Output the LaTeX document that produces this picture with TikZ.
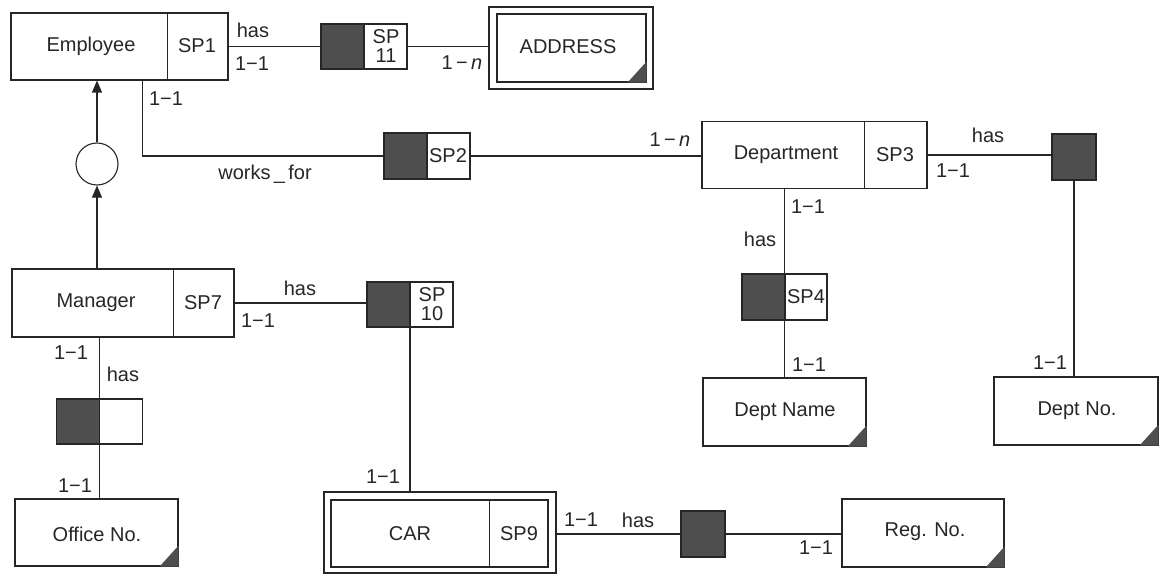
\documentclass[tikz,border=0pt]{standalone}
\usepackage{fontspec}
\setmainfont{Liberation Sans}
\usetikzlibrary{arrows.meta}
\definecolor{relgray}{RGB}{78,78,78}
\tikzset{
  ln/.style={line width=1.1pt, draw=black!85},
  box/.style={draw=black!85, line width=1.1pt, rectangle, inner sep=0pt},
  lbl/.style={font=\fontsize{20}{22}\selectfont, inner sep=0pt, text=black!85},
  spl/.style={font=\fontsize{20}{19}\selectfont, inner sep=0pt, align=center, text=black!85},
  relhalf/.style={box, path picture={
     \fill[relgray] (path picture bounding box.north west) rectangle ([xshift=#1]path picture bounding box.south west);
     \draw[line width=1.1pt, draw=black!85] ([xshift=#1]path picture bounding box.north west) -- ([xshift=#1]path picture bounding box.south west);}},
  relfull/.style={box, fill=relgray},
  arr/.style={ln, -{Triangle[length=12pt,width=10pt]}}
}
\newcommand{\cornertri}[1]{\fill[relgray] (#1.south east) -- ++(-19pt,0) -- ([yshift=21pt]#1.south east) -- cycle;}
\begin{document}
\begin{tikzpicture}[x=1pt,y=-1pt]
\useasboundingbox (0,0) rectangle (1165,575);

% ---- entities ----
\node[box, minimum width=217pt, minimum height=67pt] (emp) at (119.5,46.5) {};
\draw[ln] ([xshift=157pt]emp.north west) -- ([xshift=157pt]emp.south west);
\node[lbl] (empT) at (91,46) {Employee};
\node[lbl] (empS) at (197,46) {SP1};

\node[box, minimum width=225pt, minimum height=67pt] (dept) at (814.5,155) {};
\draw[ln] ([xshift=163pt]dept.north west) -- ([xshift=163pt]dept.south west);
\node[lbl] (deptT) at (786,155) {Department};
\node[lbl] (deptS) at (895,155) {SP3};

\node[box, minimum width=222pt, minimum height=68pt] (mgr) at (123,303) {};
\draw[ln] ([xshift=162pt]mgr.north west) -- ([xshift=162pt]mgr.south west);
\node[lbl] (mgrT) at (96,303) {Manager};
\node[lbl] (mgrS) at (203,303) {SP7};

\node[box, minimum width=232pt, minimum height=81pt] (car) at (440,532.5) {};
\node[box, minimum width=217pt, minimum height=67pt] (carin) at (439.5,533.5) {};
\draw[ln] ([xshift=159pt]carin.north west) -- ([xshift=159pt]carin.south west);
\node[lbl] (carT) at (410,534) {CAR};
\node[lbl] (carS) at (519,534) {SP9};

\node[box, minimum width=164pt, minimum height=82pt] (addr) at (571,48) {};
\node[box, minimum width=149pt, minimum height=68pt] (addrin) at (571.5,48) {};
\node[lbl] (addrT) at (568,47) {ADDRESS};
\cornertri{addrin}

\node[box, minimum width=163pt, minimum height=68pt] (dname) at (784.5,412) {};
\node[lbl] (dnameT) at (785,412) {Dept Name};
\cornertri{dname}

\node[box, minimum width=164pt, minimum height=68pt] (dno) at (1076,411) {};
\node[lbl] (dnoT) at (1077,411) {Dept No.};
\cornertri{dno}

\node[box, minimum width=163pt, minimum height=67pt] (off) at (96.5,532.5) {};
\node[lbl] (offT) at (97,534) {Office No.};
\cornertri{off}

\node[box, minimum width=162pt, minimum height=68pt] (reg) at (923,533) {};
\node[lbl] (regT) at (925,532) {Reg. No.};
\cornertri{reg}

% ---- relationships ----
\node[relhalf=43pt, minimum width=86pt, minimum height=45pt] (sp11) at (364,46.5) {};
\node[spl] (sp11T) at (386,46) {SP\\11};

\node[relhalf=43pt, minimum width=86pt, minimum height=46pt] (sp2) at (427,156) {};
\node[lbl] (sp2T) at (448,156) {SP2};

\node[relhalf=43pt, minimum width=85pt, minimum height=46pt] (sp4) at (784.5,297) {};
\node[lbl] (sp4T) at (806,297) {SP4};

\node[relhalf=43pt, minimum width=86pt, minimum height=45pt] (sp10) at (410,304.5) {};
\node[spl] (sp10T) at (432,304) {SP\\10};

\node[relhalf=43pt, minimum width=86pt, minimum height=45pt] (orel) at (99.5,421.5) {};

\node[relfull, minimum width=44pt, minimum height=46pt] (r3) at (1074,157) {};
\node[relfull, minimum width=44pt, minimum height=46pt] (r9) at (703,534) {};

% ---- ISA circle ----
\node[draw=black!85, line width=1.1pt, circle, minimum size=42pt, inner sep=0pt] (isa) at (97,164) {};

% ---- connectors ----
\draw[ln] (emp.east) -- (sp11.west);
\draw[ln] (sp11.east) -- (sp11.east -| addr.west);
\draw[ln] ([xshift=132pt]emp.south west) |- (sp2.west);
\draw[ln] (sp2.east) -- (sp2.east -| dept.west);
\draw[ln] (dept.east) -- (dept.east -| r3.west);
\draw[ln] (r3.south) -- (r3.south |- dno.north);
\draw[ln] (sp4.north |- dept.south) -- (sp4.north);
\draw[ln] (sp4.south) -- (sp4.south |- dname.north);
\draw[arr] (isa.north) -- (isa.north |- emp.south);
\draw[arr] (isa.south |- mgr.north) -- (isa.south);
\draw[ln] (mgr.east) -- (mgr.east -| sp10.west);
\draw[ln] (sp10.south) -- (sp10.south |- car.north);
\draw[ln] (orel.north |- mgr.south) -- (orel.north);
\draw[ln] (orel.south) -- (orel.south |- off.north);
\draw[ln] (car.east |- r9.west) -- (r9.west);
\draw[ln] (r9.east) -- (r9.east -| reg.west);

% ---- labels ----
\node[lbl] (l1) at (253,30) {has};
\node[lbl] (l2) at (252,64) {1−1};
\node[lbl] (l3) at (462,63) {1\,−\,\textit{n}};
\node[lbl] (l4) at (166,99) {1−1};
\node[lbl] (l5) at (265,174) {works\,\_\,for};
\node[lbl] (l6) at (670,140) {1\,−\,\textit{n}};
\node[lbl] (l7) at (988,135) {has};
\node[lbl] (l8) at (953,171) {1−1};
\node[lbl] (l9) at (808,207) {1−1};
\node[lbl] (l10) at (760,239) {has};
\node[lbl] (l11) at (809,365) {1−1};
\node[lbl] (l12) at (1050,363) {1−1};
\node[lbl] (l13) at (300,288) {has};
\node[lbl] (l14) at (258,321) {1−1};
\node[lbl] (l15) at (71,353) {1−1};
\node[lbl] (l16) at (123,374) {has};
\node[lbl] (l17) at (75,486) {1−1};
\node[lbl] (l18) at (383,477) {1−1};
\node[lbl] (l19) at (581,520) {1−1};
\node[lbl] (l20) at (638,520) {has};
\node[lbl] (l21) at (816,548) {1−1};
\end{tikzpicture}
\end{document}
